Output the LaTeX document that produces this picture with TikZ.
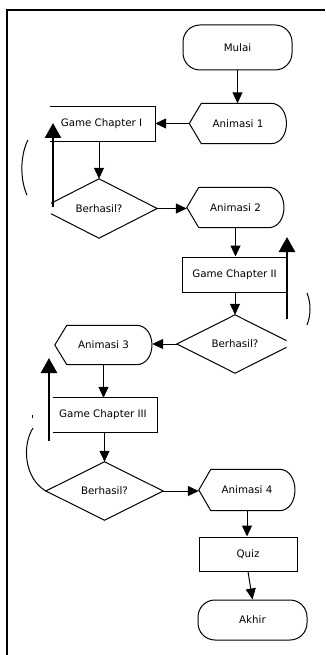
\documentclass[tikz,border=0pt]{standalone}
\usepackage{fontspec}
\setmainfont{DejaVu Sans}
\usetikzlibrary{arrows.meta,calc}
\newcommand\dispoutline[1]{%
  \draw[outline] (#1.west) -- ([xshift=12pt]#1.north west) -- ([xshift=-16pt]#1.north east)
    .. controls ([xshift=5pt]#1.north east) and ([xshift=5pt]#1.south east) .. ([xshift=-16pt]#1.south east)
    -- ([xshift=12pt]#1.south west) -- cycle;}
\newcommand\diamondoutline[1]{%
  \draw[outline] (#1.north) -- (#1.east) -- (#1.south) -- (#1.west) -- cycle;}
\begin{document}
\begin{tikzpicture}[x=1pt,y=-1pt,
  every node/.style={font=\fontsize{10.3}{12}\selectfont, inner sep=0pt},
  outline/.style={line width=1pt, line join=miter},
  conn/.style={line width=1pt, -{Triangle[length=11pt,width=10pt]}},
  bigarrow/.style={line width=2.5pt, -{Triangle[length=15pt,width=16pt]}},
  curve/.style={line width=1pt},
  terminal/.style={draw, outline, rounded corners=17pt},
  procbox/.style={draw, outline}
]
\useasboundingbox (0,0) rectangle (325,655);

% frame
\draw[line width=1.7pt] (7,655) -- (7,10) -- (325,10);

% terminals
\node[terminal, minimum width=109pt, minimum height=45pt] (start) at (237.5,47.5) {Mulai};
\node[terminal, minimum width=109pt, minimum height=40pt] (akhir) at (252.5,620) {Akhir};

% display shapes
\node[minimum width=97pt, minimum height=40pt] (a1) at (238,123.5) {Animasi 1};
\node[minimum width=97pt, minimum height=40pt] (a2) at (235.5,207.5) {Animasi 2};
\node[minimum width=97pt, minimum height=39pt] (a3) at (103.5,345) {Animasi 3};
\node[minimum width=96pt, minimum height=41pt] (a4) at (247,490) {Animasi 4};
\dispoutline{a1}
\dispoutline{a2}
\dispoutline{a3}
\dispoutline{a4}

% process boxes
\node[minimum width=107pt, minimum height=34pt] (gc1) at (101.5,124) {Game Chapter I};
\node[procbox, minimum width=105pt, minimum height=35pt] (gc2) at (234.5,274.5) {Game Chapter II};
\node[minimum width=108pt, minimum height=34pt] (gc3) at (103,415) {Game Chapter III};
\node[procbox, minimum width=98pt, minimum height=34pt] (quiz) at (248,554) {Quiz};
\begin{scope}
  \clip (50,0) rectangle (325,655);
  \draw[outline] (gc1.north west) rectangle (gc1.south east);
\end{scope}
\begin{scope}
  \clip (53,0) rectangle (325,655);
  \draw[outline] (gc3.north west) rectangle (gc3.south east);
\end{scope}

% decisions
\node[minimum width=116pt, minimum height=59pt] (d1) at (99,208.5) {Berhasil?};
\node[minimum width=116pt, minimum height=58pt] (d2) at (235,344) {Berhasil?};
\node[minimum width=117pt, minimum height=58pt] (d3) at (104.5,491) {Berhasil?};
\begin{scope}
  \clip (51,0) rectangle (325,655);
  \diamondoutline{d1}
\end{scope}
\begin{scope}
  \clip (0,0) rectangle (286.5,655);
  \diamondoutline{d2}
\end{scope}
\diamondoutline{d3}

% connectors
\draw[conn] (start.south) -- (start.south |- a1.north);
\draw[conn] (a1.west) -- (a1.west -| gc1.east);
\draw[conn] (d1.north |- gc1.south) -- (d1.north);
\draw[conn] (d1.east) -- (d1.east -| a2.west);
\draw[conn] (a2.south) -- (a2.south |- gc2.north);
\draw[conn] (d2.north |- gc2.south) -- (d2.north);
\draw[conn] (d2.west) -- (d2.west -| a3.east);
\draw[conn] (a3.south) -- (a3.south |- gc3.north);
\draw[conn] (d3.north |- gc3.south) -- (d3.north);
\draw[conn] (d3.east) -- (d3.east -| a4.west);
\draw[conn] (a4.south) -- (a4.south |- quiz.north);
\draw[conn] (quiz.south) -- (akhir.north);

% thick arrows
\coordinate (t1s) at (53,207);  \coordinate (t1e) at (53,123);
\coordinate (t2s) at (287,319); \coordinate (t2e) at (287,237);
\coordinate (t3s) at (49,441);  \coordinate (t3e) at (49,358);
\draw[bigarrow] (t1s) -- (t1e);
\draw[bigarrow] (t2s) -- (t2e);
\draw[bigarrow] (t3s) -- (t3e);

% loop curve fragments
\draw[curve] (28,140) .. controls (20,155) and (20,180) .. (27,195);
\draw[curve] (307,293) .. controls (311,303) and (311,315) .. (307,325);
\draw[curve] (33,428) .. controls (22,445) and (24,478) .. (d3.west);
\draw[line width=0.6pt] (32.7,415) -- (32.7,418);
\end{tikzpicture}
\end{document}
